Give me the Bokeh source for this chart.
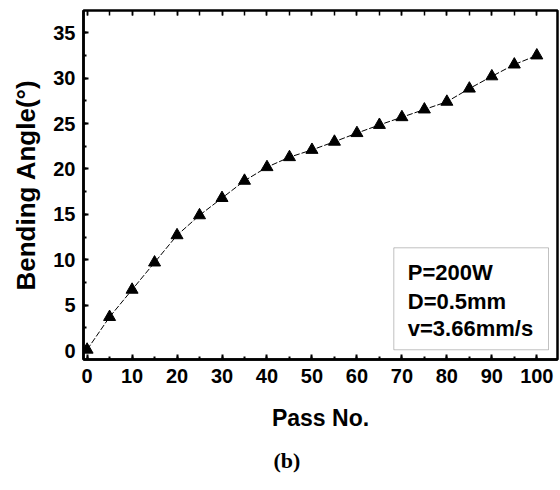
from bokeh.plotting import figure
from bokeh.models import (Range1d, SingleIntervalTicker, LinearAxis, BoxAnnotation,
                          Label, ColumnDataSource, Title)
from bokeh.embed import file_html
from bokeh.resources import INLINE

# ---- data ----
passes = [0, 5, 10, 15, 20, 25, 30, 35, 40, 45, 50, 55, 60, 65, 70, 75, 80, 85, 90, 95, 100]
angles = [0.1, 3.7, 6.7, 9.7, 12.7, 14.9, 16.8, 18.7, 20.2, 21.3, 22.1, 23.0, 23.95, 24.85,
          25.7, 26.55, 27.4, 28.85, 30.2, 31.5, 32.5]
info_lines = ["P=200W", "D=0.5mm", "v=3.66mm/s"]
x_label = "Pass No."
y_label = "Bending Angle(°)"
panel_tag = "(b)"

FONT = "Liberation Sans"

p = figure(width=560, height=490, output_backend="svg", toolbar_location=None,
           x_range=Range1d(-0.8, 104.6), y_range=Range1d(-0.98, 37.45),
           min_border_left=83, min_border_right=3, min_border_top=10, min_border_bottom=131)
p.xgrid.visible = False
p.ygrid.visible = False
p.outline_line_color = "black"
p.outline_line_width = 2.5
p.background_fill_color = "white"
p.border_fill_color = "white"

src = ColumnDataSource(dict(x=passes, y=angles))
p.line("x", "y", source=src, line_color="black", line_width=1, line_dash="6 2")
p.scatter("x", "y", source=src, marker="triangle", size=12, fill_color="black",
          line_color="black")

# axes styling
xa = p.xaxis[0]
xa.ticker = SingleIntervalTicker(interval=10, num_minor_ticks=2)
ya = p.yaxis[0]
ya.ticker = SingleIntervalTicker(interval=5, num_minor_ticks=2)
for ax in (xa, ya):
    ax.axis_line_width = 2.5
    ax.axis_line_color = "black"
    ax.major_tick_in = 5
    ax.major_tick_out = 0
    ax.minor_tick_in = 3
    ax.minor_tick_out = 0
    ax.major_tick_line_width = 2
    ax.minor_tick_line_width = 2
    ax.major_tick_line_color = "black"
    ax.minor_tick_line_color = "black"
    ax.major_label_text_font = FONT
    ax.major_label_text_font_style = "bold"
    ax.major_label_text_font_size = "20px"
    ax.major_label_text_color = "black"
    ax.axis_label_text_font = FONT
    ax.axis_label_text_font_style = "bold"
    ax.axis_label_text_color = "black"
xa.axis_label = x_label
ya.axis_label = y_label
xa.axis_label_text_font_size = "23px"
ya.axis_label_text_font_size = "26px"
xa.major_label_standoff = 9
ya.major_label_standoff = 8
xa.axis_label_standoff = 19
ya.axis_label_standoff = 9

top = LinearAxis(ticker=SingleIntervalTicker(interval=10, num_minor_ticks=2),
                 axis_line_color=None,
                 major_tick_in=5, major_tick_out=0, minor_tick_in=5, minor_tick_out=0,
                 major_tick_line_width=1.5, minor_tick_line_width=1.5,
                 major_tick_line_color="black", minor_tick_line_color="black")
top.major_label_text_alpha = 0
top.major_label_text_font_size = "1px"
top.major_label_standoff = 0
p.add_layout(top, "above")

# parameter box
box = BoxAnnotation(left=68.2, right=102.6, bottom=0.09, top=11.32,
                    fill_color=None, fill_alpha=0, line_color="#333333", line_width=1)
p.add_layout(box)
ys = [8.63, 5.44, 2.40]
for txt, yy in zip(info_lines, ys):
    p.add_layout(Label(x=71.3, y=yy, text=txt, text_font=FONT, text_font_style="bold",
                       text_font_size="22px", text_baseline="middle", text_color="black"))

p.add_layout(Title(text=panel_tag, text_font="Liberation Serif", text_font_style="bold",
                   text_font_size="22px", align="left", offset=190, standoff=24,
                   text_color="black"), "below")

open("out.html", "w").write(file_html(p, INLINE))
